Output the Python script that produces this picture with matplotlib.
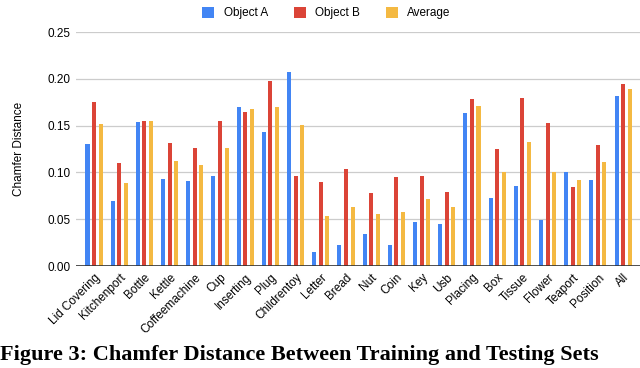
import numpy as np
import matplotlib
matplotlib.use('Agg')
import matplotlib.pyplot as plt

plt.rcParams['font.family'] = ['Liberation Sans', 'DejaVu Sans']

categories = ['Lid Covering', 'Kitchenport', 'Bottle', 'Kettle', 'Coffeemachine', 'Cup',
              'Inserting', 'Plug', 'Childrentoy', 'Letter', 'Bread', 'Nut', 'Coin', 'Key',
              'Usb', 'Placing', 'Box', 'Tissue', 'Flower', 'Teaport', 'Position', 'All']
object_a = [0.130, 0.069, 0.154, 0.093, 0.091, 0.096, 0.170, 0.143, 0.207, 0.015, 0.022,
            0.034, 0.022, 0.047, 0.045, 0.164, 0.073, 0.086, 0.049, 0.100, 0.092, 0.182]
object_b = [0.175, 0.110, 0.155, 0.131, 0.126, 0.155, 0.165, 0.198, 0.096, 0.090, 0.104,
            0.078, 0.095, 0.096, 0.079, 0.178, 0.125, 0.180, 0.153, 0.084, 0.129, 0.195]
average = [0.152, 0.089, 0.155, 0.112, 0.108, 0.126, 0.168, 0.170, 0.151, 0.053, 0.063,
           0.056, 0.058, 0.072, 0.063, 0.171, 0.100, 0.132, 0.100, 0.092, 0.111, 0.189]

x = np.arange(len(categories))
w = 0.16
off = 0.26

fig = plt.figure(figsize=(6.4, 3.68), dpi=100)
ax = fig.add_axes([0.119, 0.277, 0.881, 0.636])

ax.bar(x - off, object_a, w, color='#4285F4', label='Object A', zorder=3)
ax.bar(x, object_b, w, color='#DB4437', label='Object B', zorder=3)
ax.bar(x + off, average, w, color='#F4B942', label='Average', zorder=3)

ax.set_ylim(0, 0.25)
ax.set_xlim(-0.71, len(categories) - 0.33)
yt = np.arange(0, 0.26, 0.05)
ax.set_yticks(yt)
ax.set_yticklabels([f'{v:.2f}' for v in yt], fontsize=8.5)
ax.grid(axis='y', color='#cccccc', linewidth=0.9, zorder=0)
ax.axhline(0, color='#333333', linewidth=1.2, zorder=4)
for s in ax.spines.values():
    s.set_visible(False)
ax.tick_params(axis='both', length=0, pad=4)
ax.set_xticks(x)
ax.set_xticklabels(categories, rotation=45, ha='right', rotation_mode='anchor', fontsize=8.5)
ax.set_ylabel('Chamfer Distance', fontsize=8.5, labelpad=16)

fig.legend(loc='upper center', bbox_to_anchor=(0.51, 1.01), ncol=3, frameon=False,
           fontsize=8.5, handlelength=1.0, handleheight=1.0, columnspacing=2.2)

fig.text(0.0, 0.008, 'Figure 3: Chamfer Distance Between Training and Testing Sets',
         family='Liberation Serif', fontweight='bold', fontsize=16, va='bottom')

fig.savefig('out.png', dpi=100)
